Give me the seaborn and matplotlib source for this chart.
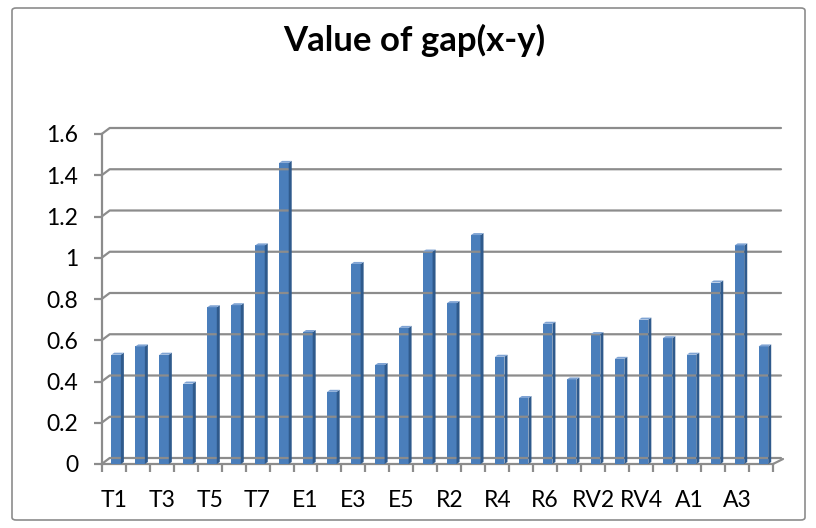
import matplotlib
matplotlib.use("Agg")
import matplotlib.pyplot as plt
import matplotlib.patches as mpatches
from matplotlib.lines import Line2D
import numpy as np
import pandas as pd
import seaborn as sns

# data
categories = ["T1", "T2", "T3", "T4", "T5", "T6", "T7", "T8",
              "E1", "E2", "E3", "E4", "E5",
              "R1", "R2", "R3", "R4", "R5", "R6",
              "RV1", "RV2", "RV3", "RV4", "RV5",
              "A1", "A2", "A3", "A4"]
gap_values = [0.53, 0.57, 0.53, 0.39, 0.76, 0.77, 1.06, 1.46,
              0.64, 0.35, 0.97, 0.48, 0.66,
              1.03, 0.78, 1.11, 0.52, 0.32, 0.68,
              0.41, 0.63, 0.51, 0.70, 0.61,
              0.53, 0.88, 1.06, 0.57]
y_ticks = [0, 0.2, 0.4, 0.6, 0.8, 1, 1.2, 1.4, 1.6]
y_tick_labels = ["0", "0.2", "0.4", "0.6", "0.8", "1", "1.2", "1.4", "1.6"]

df = pd.DataFrame({"cat": categories, "gap": gap_values})

sns.set_style("white")
plt.rcParams['font.family'] = ['Lato', 'DejaVu Sans']

W, H = 816, 528
fig = plt.figure(figsize=(W / 100, H / 100), dpi=100)
ax = fig.add_axes([101.7 / W, (H - 464) / H, (773 - 101.7) / W, 330 / H])

front = "#4A7EBB"
side = "#2F5A8C"
top = "#7FA3D3"
grid_c = "#8C8C8C"

sns.barplot(data=df, x="cat", y="gap", color=front, width=0.4,
            saturation=1, ax=ax, zorder=3)

ax.set_xlim(-0.5, len(categories) - 0.5)
ax.set_ylim(0, 1.6)
ax.set_xlabel("")
ax.set_ylabel("")

# 3d look: depth offsets in pixels
wall_dx, wall_dy = 8, 6
bar_dx, bar_dy = 3, 2

fig.canvas.draw()
to_px = ax.transData.transform

# back wall gridlines with slanted stub on the side wall
x_left, x_right = ax.get_xlim()
for yv in y_ticks:
    (lx, ly) = to_px((x_left, yv))
    (rx, ry) = to_px((x_right, yv))
    xs = [lx, lx + wall_dx, rx + wall_dx]
    ys = [ly, ly + wall_dy, ry + wall_dy]
    fig.add_artist(Line2D(xs, ys, transform=None, color=grid_c, lw=1.6,
                          zorder=1))
# floor right edge
(rx, ry) = to_px((x_right, 0))
fig.add_artist(Line2D([rx, rx + wall_dx + 2], [ry, ry + wall_dy - 1],
                      transform=None, color=grid_c, lw=1.6, zorder=1))

# bar side and top faces
for p in ax.patches:
    p.set_x(p.get_x() + 0.1)
    p.set_edgecolor("none")
    (x0, y0) = to_px((p.get_x(), 0))
    (x1, y1) = to_px((p.get_x() + p.get_width(), p.get_height()))
    side_face = mpatches.Polygon([(x1, y0), (x1, y1), (x1 + bar_dx, y1 + bar_dy),
                                  (x1 + bar_dx, y0 + bar_dy)], closed=True,
                                 transform=None, facecolor=side,
                                 edgecolor="none", zorder=5)
    top_face = mpatches.Polygon([(x0, y1), (x0 + bar_dx, y1 + bar_dy),
                                 (x1 + bar_dx, y1 + bar_dy), (x1, y1)],
                                closed=True, transform=None, facecolor=top,
                                edgecolor="none", zorder=5)
    fig.add_artist(side_face)
    fig.add_artist(top_face)

# axes styling
for s in ["top", "right"]:
    ax.spines[s].set_visible(False)
for s in ["left", "bottom"]:
    ax.spines[s].set_color(grid_c)
    ax.spines[s].set_linewidth(1.6)
ax.set_facecolor("none")

ax.set_yticks(y_ticks)
ax.set_yticklabels(y_tick_labels)
ax.tick_params(axis="y", direction="out", length=6, width=1.6, color=grid_c,
               pad=11, labelsize=16.5, labelcolor="black", left=True)

ax.set_xticks(range(0, len(categories), 2))
ax.set_xticklabels(categories[::2])
ax.set_xticks(np.arange(-0.5, len(categories), 1), minor=True)
ax.tick_params(axis="x", which="major", length=0, pad=19, labelsize=16.5,
               labelcolor="black")
ax.tick_params(axis="x", which="minor", direction="out", length=6, width=1.6,
               color=grid_c, bottom=True)

fig.text(414 / W, 1 - 40 / H, "Value of gap(x-y)", ha="center", va="center",
         fontsize=25, fontweight="bold", color="black")

# chart border
fig.add_artist(mpatches.FancyBboxPatch((12 / W, 8 / H), 793 / W, 512 / H,
                                       boxstyle="round,pad=0,rounding_size=0.005",
                                       transform=fig.transFigure,
                                       facecolor="none", edgecolor="#8C8C8C",
                                       lw=1.2))

fig.savefig("out.png", dpi=100)
